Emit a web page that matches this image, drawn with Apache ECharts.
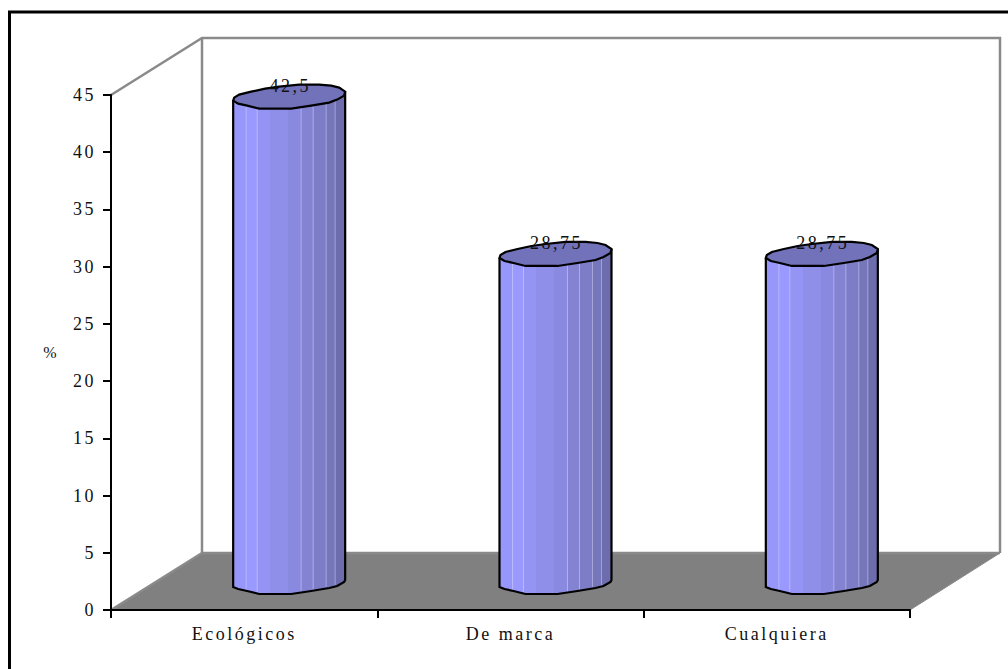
<!DOCTYPE html>
<html>
<head>
<meta charset="utf-8">
<style>
  html, body { margin: 0; padding: 0; background: #fff; }
  #chart { width: 1008px; height: 669px; }
  #chart text { letter-spacing: 2.5px; }
</style>
<script src="https://cdn.jsdelivr.net/npm/echarts@6/dist/echarts.min.js"></script>
</head>
<body>
<div id="chart"></div>
<script>
const categories = ['Ecológicos', 'De marca', 'Cualquiera'];
const values = [42.5, 28.75, 28.75];
const axisMax = 45;
const axisStep = 5;
const axisTitle = '%';

// Projection of the 3D box: full depth of the walls, half depth for the columns.
const DEPTH_X = 91, DEPTH_Y = -57;
const WALL = '#8a8a8a', FLOOR = '#808080';

// Outline of one column cap, relative to its centre.
const RIM = [[-56, 4], [-55, 1], [-50, -2], [-38, -5], [-24, -8], [-10, -10], [10, -12], [30, -12], [42, -11], [50, -9], [56, -5],
             [55, -1], [48, 3], [40, 6], [22, 9], [2, 12], [-14, 12], [-30, 12], [-42, 9], [-51, 7]];
// Front half of the rim, left to right.
const FRONT = [[-56, 4], [-51, 6], [-42, 8], [-30, 11], [-14, 11], [2, 11], [22, 8], [40, 5], [48, 3], [55, -1], [56, -3]];
// Shading facets: [right edge as a fraction of the width, colour].
const FACETS = [[0.12, '#9797fb'], [0.22, '#9999ff'], [0.33, '#9494f5'], [0.49, '#8f8fea'], [0.61, '#8989df'],
                [0.72, '#8383d2'], [0.83, '#7d7dc7'], [0.91, '#7676bb'], [1, '#6d6dad']];

function frontY(dx) {
  for (let i = 1; i < FRONT.length; i++) {
    if (dx <= FRONT[i][0]) {
      const a = FRONT[i - 1], b = FRONT[i];
      return a[1] + (b[1] - a[1]) * (dx - a[0]) / (b[0] - a[0]);
    }
  }
  return FRONT[FRONT.length - 1][1];
}

function renderBox(params) {
  const g = params.coordSys;
  const floor = [[g.x, g.y + g.height], [g.x + DEPTH_X, g.y + g.height + DEPTH_Y],
                 [g.x + g.width + DEPTH_X - 1, g.y + g.height + DEPTH_Y], [g.x + g.width, g.y + g.height]];
  const line = pts => ({ type: 'polyline', shape: { points: pts }, style: { fill: null, stroke: WALL, lineWidth: 2.5 } });
  return {
    type: 'group',
    children: [
      { type: 'polygon', shape: { points: floor }, style: { fill: FLOOR, stroke: WALL, lineWidth: 1 } },
      line([[g.x, g.y], [g.x + DEPTH_X, g.y + DEPTH_Y], [g.x + g.width + DEPTH_X - 1, g.y + DEPTH_Y],
            [g.x + g.width + DEPTH_X - 1, g.y + g.height + DEPTH_Y]]),
      line([[g.x + DEPTH_X, g.y + DEPTH_Y], [g.x + DEPTH_X, g.y + g.height + DEPTH_Y], [g.x + g.width + DEPTH_X - 1, g.y + g.height + DEPTH_Y]]),
      line([[g.x, g.y + g.height], [g.x + DEPTH_X, g.y + g.height + DEPTH_Y]])
    ]
  };
}

function renderColumn(params, api) {
  const top = api.coord([api.value(0), api.value(1)]);
  const base = api.coord([api.value(0), 0]);
  const cx = top[0] + DEPTH_X / 2 - 0.5, topY = top[1] + DEPTH_Y / 2 + 1.5, baseY = base[1] + DEPTH_Y / 2 + 1.5;

  const stops = [];
  let from = 0;
  FACETS.forEach(([to, color]) => {
    stops.push({ offset: from, color }, { offset: to, color });
    from = to;
  });

  const body = [[cx - 56, topY + 4]];
  FRONT.forEach(p => body.push([cx + p[0], baseY + p[1]]));
  body.push([cx + 56, topY - 5]);

  const seams = [-43, -32, 12, 24, 37, 46].map(dx => ({
    type: 'line',
    shape: { x1: cx + dx, y1: topY, x2: cx + dx, y2: baseY + frontY(dx) - 1 },
    style: { stroke: 'rgba(225,225,255,0.45)', lineWidth: 1 }
  }));

  const label = String(api.value(1)).replace('.', ',');
  return {
    type: 'group',
    children: [
      { type: 'polygon', shape: { points: body },
        style: { fill: new echarts.graphic.LinearGradient(0, 0, 1, 0, stops), stroke: null } },
      ...seams,
      { type: 'polyline', shape: { points: body }, style: { fill: null, stroke: '#000', lineWidth: 2.2 } },
      { type: 'polygon', shape: { points: RIM.map(p => [cx + p[0], topY + p[1]]) },
        style: { fill: '#7272bb', stroke: '#000', lineWidth: 2.2 } },
      { type: 'text', x: cx + 1, y: topY - 11,
        style: { text: label, fill: '#111', font: '18px "Liberation Serif"', align: 'center', verticalAlign: 'middle' } }
    ]
  };
}

const chart = echarts.init(document.getElementById('chart'), null, { renderer: 'svg', width: 1008, height: 669 });
const ink = { color: '#111', fontFamily: 'Liberation Serif', fontSize: 18 };

chart.setOption({
  animation: false,
  backgroundColor: '#fff',
  graphic: [{
    type: 'polyline',
    shape: { points: [[9.5, 669], [9.5, 12], [1008, 12]] },
    style: { fill: null, stroke: '#000', lineWidth: 3 }
  }],
  grid: { left: 111, top: 95, width: 799, height: 515 },
  xAxis: {
    type: 'category',
    data: categories,
    z: 5,
    axisLine: { lineStyle: { color: '#000', width: 2 } },
    axisTick: { show: true, alignWithLabel: false, length: 8, lineStyle: { color: '#000', width: 2 } },
    axisLabel: { ...ink, margin: 15 }
  },
  yAxis: {
    type: 'value',
    min: 0,
    max: axisMax,
    interval: axisStep,
    z: 5,
    name: axisTitle,
    nameLocation: 'middle',
    nameGap: 52,
    nameRotate: 0,
    nameTextStyle: { ...ink, fontSize: 16 },
    splitLine: { show: false },
    axisLine: { show: true, lineStyle: { color: '#000', width: 2 } },
    axisTick: { show: true, length: 8, lineStyle: { color: '#000', width: 2 } },
    axisLabel: { ...ink, margin: 15, padding: [2, 0, 0, 0] }
  },
  series: [
    { type: 'custom', z: 1, silent: true, renderItem: renderBox, data: [0], clip: false },
    { type: 'custom', z: 2, silent: true, renderItem: renderColumn, clip: false,
      encode: { x: 0, y: 1 }, data: values.map((v, i) => [i, v]) }
  ]
});
</script>
</body>
</html>
